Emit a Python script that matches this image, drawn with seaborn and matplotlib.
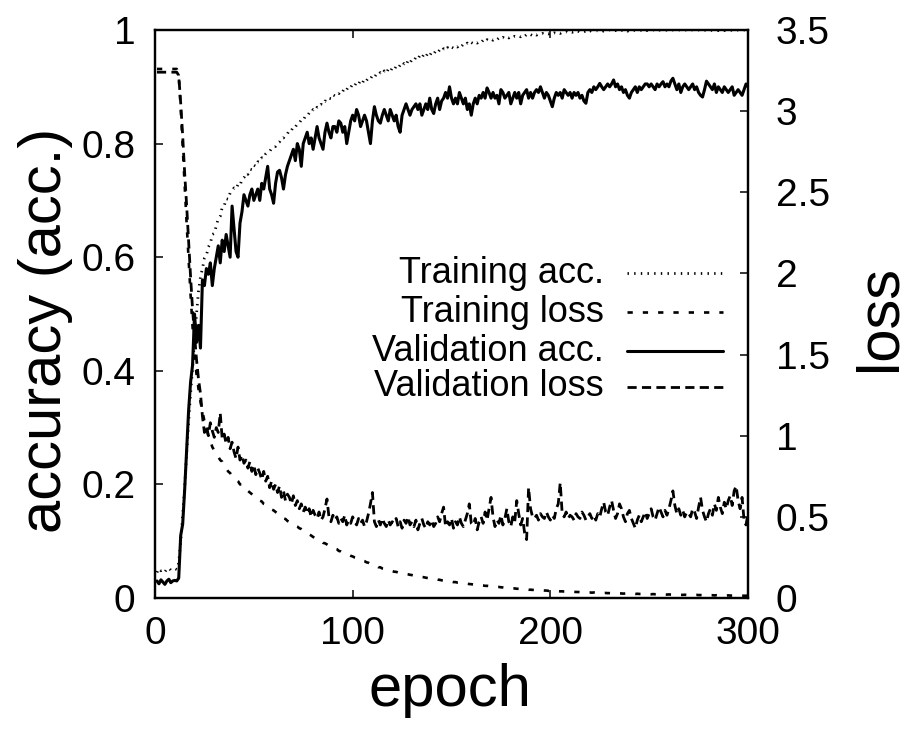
import matplotlib
matplotlib.use("Agg")
import matplotlib.pyplot as plt
import seaborn as sns
from matplotlib.lines import Line2D

sns.set_theme(style="ticks")
plt.rcParams['font.family'] = ['Liberation Sans', 'DejaVu Sans']

epochs = list(range(1, 301))

train_acc = [
    0.045, 0.052, 0.048, 0.050, 0.046, 0.051, 0.053, 0.049, 0.050, 0.052,
    0.050, 0.062, 0.100, 0.145, 0.195, 0.255, 0.310, 0.360, 0.405, 0.455,
    0.500, 0.540, 0.565, 0.580, 0.598, 0.603, 0.618, 0.624, 0.640, 0.642,
    0.655, 0.668, 0.672, 0.688, 0.690, 0.703, 0.702, 0.713, 0.716, 0.722,
    0.720, 0.728, 0.726, 0.737, 0.740, 0.748, 0.746, 0.755, 0.754, 0.762,
    0.760, 0.768, 0.767, 0.775, 0.774, 0.782, 0.785, 0.786, 0.792, 0.795,
    0.795, 0.801, 0.803, 0.810, 0.810, 0.816, 0.817, 0.824, 0.823, 0.830,
    0.829, 0.835, 0.836, 0.842, 0.841, 0.848, 0.848, 0.854, 0.853, 0.860,
    0.858, 0.864, 0.863, 0.869, 0.868, 0.875, 0.874, 0.880, 0.879, 0.886,
    0.884, 0.889, 0.888, 0.894, 0.892, 0.898, 0.895, 0.901, 0.899, 0.905,
    0.902, 0.908, 0.905, 0.911, 0.907, 0.914, 0.911, 0.916, 0.914, 0.920,
    0.917, 0.922, 0.920, 0.925, 0.922, 0.928, 0.924, 0.931, 0.927, 0.933,
    0.930, 0.936, 0.933, 0.938, 0.935, 0.941, 0.938, 0.946, 0.942, 0.948,
    0.946, 0.952, 0.949, 0.955, 0.951, 0.957, 0.953, 0.959, 0.955, 0.961,
    0.958, 0.963, 0.960, 0.965, 0.962, 0.967, 0.964, 0.969, 0.966, 0.970,
    0.968, 0.972, 0.970, 0.974, 0.971, 0.975, 0.973, 0.977, 0.974, 0.978,
    0.976, 0.979, 0.977, 0.980, 0.978, 0.982, 0.979, 0.983, 0.981, 0.984,
    0.982, 0.985, 0.983, 0.986, 0.984, 0.987, 0.985, 0.988, 0.986, 0.989,
    0.987, 0.989, 0.988, 0.990, 0.988, 0.991, 0.989, 0.992, 0.990, 0.992,
    0.990, 0.993, 0.991, 0.993, 0.992, 0.994, 0.992, 0.994, 0.993, 0.995,
    0.993, 0.995, 0.994, 0.996, 0.994, 0.996, 0.995, 0.997, 0.995, 0.997,
    0.996, 0.997, 0.996, 0.998, 0.996, 0.998, 0.997, 0.998, 0.997, 0.999,
    0.997, 0.998, 0.998, 0.999, 0.997, 0.999, 0.998, 0.999, 0.998, 1.000,
    0.998, 0.999, 0.999, 1.000, 0.998, 0.999, 0.999, 1.000, 0.998, 0.999,
    0.999, 1.000, 0.999, 1.000, 0.998, 1.000, 0.999, 1.000, 0.999, 1.000,
    0.999, 1.000, 0.999, 1.000, 1.000, 0.999, 1.000, 0.999, 1.000, 1.000,
    0.999, 1.000, 1.000, 0.999, 1.000, 1.000, 0.999, 1.000, 1.000, 0.999,
    1.000, 1.000, 0.999, 1.000, 1.000, 0.999, 1.000, 1.000, 0.999, 1.000,
    1.000, 0.999, 1.000, 1.000, 0.999, 1.000, 1.000, 0.999, 1.000, 1.000,
    0.999, 1.000, 1.000, 0.999, 1.000, 1.000, 0.999, 1.000, 1.000, 1.000,
]

train_loss = [
    3.26, 3.26, 3.26, 3.26, 3.26, 3.26, 3.26, 3.26, 3.26, 3.26,
    3.26, 3.22, 3.02, 2.78, 2.54, 2.31, 2.09, 1.87, 1.67, 1.50,
    1.38, 1.29, 1.21, 1.15, 1.09, 1.05, 1.00, 0.97, 0.93, 0.91,
    0.89, 0.87, 0.85, 0.84, 0.81, 0.80, 0.78, 0.77, 0.75, 0.74,
    0.73, 0.72, 0.70, 0.70, 0.68, 0.67, 0.66, 0.65, 0.64, 0.63,
    0.62, 0.61, 0.60, 0.595, 0.58, 0.575, 0.565, 0.558, 0.545, 0.54,
    0.53, 0.522, 0.51, 0.505, 0.49, 0.487, 0.475, 0.468, 0.458, 0.452,
    0.445, 0.44, 0.43, 0.425, 0.415, 0.41, 0.40, 0.392, 0.385, 0.376,
    0.37, 0.365, 0.356, 0.352, 0.34, 0.337, 0.33, 0.322, 0.315, 0.312,
    0.305, 0.301, 0.29, 0.287, 0.28, 0.276, 0.27, 0.266, 0.26, 0.256,
    0.25, 0.247, 0.24, 0.237, 0.23, 0.227, 0.22, 0.217, 0.21, 0.207,
    0.20, 0.199, 0.19, 0.189, 0.182, 0.180, 0.175, 0.172, 0.168, 0.166,
    0.162, 0.161, 0.157, 0.156, 0.152, 0.151, 0.148, 0.146, 0.143, 0.141,
    0.138, 0.137, 0.133, 0.132, 0.129, 0.128, 0.125, 0.123, 0.120, 0.119,
    0.116, 0.116, 0.113, 0.112, 0.109, 0.108, 0.105, 0.105, 0.102, 0.101,
    0.098, 0.098, 0.095, 0.095, 0.092, 0.091, 0.089, 0.088, 0.086, 0.085,
    0.083, 0.083, 0.080, 0.080, 0.078, 0.077, 0.075, 0.075, 0.073, 0.072,
    0.070, 0.070, 0.068, 0.068, 0.066, 0.065, 0.063, 0.063, 0.061, 0.061,
    0.059, 0.059, 0.057, 0.057, 0.055, 0.055, 0.053, 0.053, 0.051, 0.051,
    0.050, 0.050, 0.048, 0.049, 0.047, 0.047, 0.046, 0.046, 0.044, 0.045,
    0.043, 0.044, 0.042, 0.042, 0.041, 0.041, 0.040, 0.040, 0.039, 0.039,
    0.038, 0.038, 0.037, 0.037, 0.036, 0.036, 0.035, 0.035, 0.034, 0.034,
    0.033, 0.034, 0.032, 0.033, 0.031, 0.032, 0.030, 0.031, 0.030, 0.030,
    0.029, 0.030, 0.028, 0.029, 0.028, 0.028, 0.027, 0.028, 0.026, 0.027,
    0.026, 0.026, 0.025, 0.026, 0.025, 0.025, 0.024, 0.025, 0.024, 0.024,
    0.023, 0.024, 0.023, 0.023, 0.022, 0.023, 0.022, 0.022, 0.021, 0.022,
    0.021, 0.021, 0.020, 0.021, 0.020, 0.020, 0.019, 0.020, 0.019, 0.019,
    0.019, 0.019, 0.018, 0.019, 0.018, 0.018, 0.017, 0.018, 0.017, 0.017,
    0.017, 0.017, 0.016, 0.017, 0.016, 0.016, 0.016, 0.016, 0.015, 0.016,
    0.015, 0.015, 0.015, 0.015, 0.014, 0.015, 0.014, 0.014, 0.014, 0.014,
]

val_acc = [
    0.030, 0.025, 0.032, 0.028, 0.024, 0.030, 0.033, 0.027, 0.030, 0.031,
    0.030, 0.035, 0.110, 0.130, 0.190, 0.260, 0.330, 0.380, 0.410, 0.500,
    0.450, 0.480, 0.440, 0.560, 0.550, 0.580, 0.570, 0.590, 0.550, 0.580,
    0.600, 0.620, 0.590, 0.630, 0.610, 0.640, 0.620, 0.600, 0.690, 0.650,
    0.610, 0.600, 0.660, 0.680, 0.710, 0.700, 0.690, 0.710, 0.720, 0.700,
    0.710, 0.720, 0.700, 0.730, 0.720, 0.740, 0.760, 0.720, 0.710, 0.695,
    0.730, 0.750, 0.753, 0.740, 0.720, 0.745, 0.760, 0.770, 0.780, 0.790,
    0.770, 0.800, 0.790, 0.760, 0.800, 0.810, 0.820, 0.800, 0.810, 0.790,
    0.810, 0.830, 0.810, 0.800, 0.790, 0.820, 0.836, 0.820, 0.810, 0.830,
    0.830, 0.820, 0.840, 0.836, 0.820, 0.830, 0.800, 0.820, 0.840, 0.850,
    0.840, 0.860, 0.850, 0.830, 0.840, 0.850, 0.840, 0.820, 0.800, 0.840,
    0.865, 0.850, 0.840, 0.836, 0.850, 0.860, 0.850, 0.840, 0.860, 0.850,
    0.840, 0.850, 0.830, 0.820, 0.850, 0.860, 0.870, 0.860, 0.850, 0.860,
    0.865, 0.870, 0.860, 0.870, 0.850, 0.860, 0.870, 0.860, 0.880, 0.860,
    0.853, 0.870, 0.880, 0.860, 0.875, 0.880, 0.890, 0.880, 0.900, 0.880,
    0.870, 0.880, 0.870, 0.890, 0.880, 0.870, 0.880, 0.860, 0.870, 0.850,
    0.870, 0.880, 0.870, 0.885, 0.880, 0.890, 0.880, 0.898, 0.890, 0.880,
    0.890, 0.880, 0.885, 0.870, 0.895, 0.890, 0.880, 0.885, 0.890, 0.870,
    0.880, 0.890, 0.880, 0.890, 0.870, 0.885, 0.890, 0.895, 0.880, 0.890,
    0.880, 0.890, 0.895, 0.890, 0.900, 0.890, 0.880, 0.890, 0.885, 0.875,
    0.865, 0.880, 0.890, 0.885, 0.890, 0.880, 0.895, 0.890, 0.885, 0.890,
    0.880, 0.890, 0.885, 0.890, 0.880, 0.885, 0.875, 0.871, 0.890, 0.895,
    0.890, 0.900, 0.895, 0.900, 0.906, 0.900, 0.895, 0.900, 0.905, 0.900,
    0.905, 0.912, 0.900, 0.905, 0.895, 0.900, 0.890, 0.895, 0.885, 0.880,
    0.890, 0.895, 0.900, 0.890, 0.900, 0.895, 0.900, 0.905, 0.905, 0.900,
    0.905, 0.900, 0.895, 0.905, 0.900, 0.905, 0.909, 0.900, 0.905, 0.900,
    0.910, 0.915, 0.905, 0.895, 0.905, 0.890, 0.900, 0.905, 0.900, 0.895,
    0.900, 0.905, 0.895, 0.900, 0.890, 0.885, 0.882, 0.895, 0.910, 0.905,
    0.900, 0.895, 0.905, 0.890, 0.900, 0.895, 0.890, 0.900, 0.895, 0.890,
    0.895, 0.900, 0.885, 0.890, 0.895, 0.890, 0.885, 0.895, 0.905, 0.900,
]

val_loss = [
    3.24, 3.24, 3.24, 3.24, 3.24, 3.24, 3.24, 3.24, 3.24, 3.24,
    3.24, 3.22, 3.05, 2.85, 2.62, 2.42, 2.20, 1.98, 1.78, 1.62,
    1.47, 1.35, 1.26, 1.12, 1.02, 1.06, 1.00, 1.08, 1.03, 0.99,
    1.05, 1.02, 1.14, 0.98, 1.01, 0.95, 0.99, 0.92, 0.96, 0.90,
    0.86, 0.93, 0.85, 0.88, 0.83, 0.85, 0.80, 0.84, 0.78, 0.82,
    0.76, 0.80, 0.77, 0.73, 0.78, 0.72, 0.75, 0.68, 0.72, 0.67,
    0.70, 0.65, 0.69, 0.62, 0.66, 0.60, 0.64, 0.62, 0.58, 0.63,
    0.57, 0.60, 0.55, 0.58, 0.53, 0.56, 0.52, 0.55, 0.50, 0.54,
    0.51, 0.49, 0.53, 0.48, 0.50, 0.55, 0.61, 0.50, 0.47, 0.51,
    0.48, 0.50, 0.46, 0.49, 0.47, 0.51, 0.45, 0.48, 0.46, 0.50,
    0.47, 0.45, 0.49, 0.46, 0.48, 0.44, 0.47, 0.52, 0.58, 0.65,
    0.47, 0.44, 0.48, 0.45, 0.49, 0.46, 0.44, 0.48, 0.45, 0.47,
    0.46, 0.49, 0.44, 0.47, 0.43, 0.48, 0.46, 0.50, 0.45, 0.47,
    0.44, 0.48, 0.42, 0.46, 0.49, 0.45, 0.43, 0.47, 0.45, 0.48,
    0.44, 0.46, 0.50, 0.47, 0.52, 0.56, 0.44, 0.47, 0.45, 0.49,
    0.43, 0.47, 0.45, 0.50, 0.46, 0.44, 0.48, 0.52, 0.58, 0.46,
    0.45, 0.49, 0.42, 0.47, 0.50, 0.46, 0.53, 0.48, 0.55, 0.62,
    0.50, 0.44, 0.48, 0.46, 0.51, 0.45, 0.49, 0.55, 0.47, 0.44,
    0.50, 0.47, 0.60, 0.52, 0.45, 0.49, 0.40, 0.36, 0.68, 0.55,
    0.50, 0.49, 0.51, 0.48, 0.52, 0.50, 0.49, 0.53, 0.50, 0.48,
    0.51, 0.49, 0.55, 0.58, 0.71, 0.52, 0.50, 0.53, 0.49, 0.51,
    0.50, 0.48, 0.52, 0.50, 0.49, 0.53, 0.51, 0.48, 0.50, 0.52,
    0.49, 0.51, 0.48, 0.52, 0.50, 0.55, 0.59, 0.53, 0.51, 0.56,
    0.60, 0.54, 0.49, 0.52, 0.58, 0.55, 0.50, 0.47, 0.52, 0.54,
    0.49, 0.46, 0.43, 0.48, 0.51, 0.47, 0.50, 0.53, 0.49, 0.52,
    0.55, 0.50, 0.48, 0.52, 0.56, 0.53, 0.50, 0.54, 0.51, 0.55,
    0.60, 0.66, 0.57, 0.52, 0.55, 0.51, 0.54, 0.50, 0.53, 0.52,
    0.50, 0.55, 0.53, 0.49, 0.56, 0.62, 0.54, 0.50, 0.47, 0.52,
    0.55, 0.51, 0.58, 0.54, 0.62, 0.56, 0.52, 0.59, 0.55, 0.60,
    0.63, 0.57, 0.66, 0.69, 0.60, 0.55, 0.62, 0.48, 0.45, 0.52,
]

x_ticks = [0, 100, 200, 300]
acc_ticks = [0, 0.2, 0.4, 0.6, 0.8, 1.0]
acc_tick_labels = ["0", "0.2", "0.4", "0.6", "0.8", "1"]
loss_ticks = [0, 0.5, 1.0, 1.5, 2.0, 2.5, 3.0, 3.5]
loss_tick_labels = ["0", "0.5", "1", "1.5", "2", "2.5", "3", "3.5"]
legend_labels = ["Training acc.", "Training loss", "Validation acc.", "Validation loss"]

W, H = 906, 734
fig = plt.figure(figsize=(W / 100, H / 100), dpi=100)
ax = fig.add_axes([155 / W, (H - 598) / H, 593 / W, 568 / H])
ax2 = ax.twinx()

styles = {
    "ta": dict(linestyle=(0, (0.5, 1.9)), lw=2.0, dash_capstyle="butt"),
    "tl": dict(linestyle=(0, (2.0, 3.8)), lw=1.9, dash_capstyle="butt"),
    "va": dict(linestyle="-", lw=2.2),
    "vl": dict(linestyle=(0, (3.3, 1.9)), lw=2.0, dash_capstyle="butt"),
}

sns.lineplot(x=epochs, y=train_acc, ax=ax, color="black", legend=False, **styles["ta"])
sns.lineplot(x=epochs, y=val_acc, ax=ax, color="black", legend=False, **styles["va"])
sns.lineplot(x=epochs, y=train_loss, ax=ax2, color="black", legend=False, **styles["tl"])
sns.lineplot(x=epochs, y=val_loss, ax=ax2, color="black", legend=False, **styles["vl"])

ax.set_xlim(0, 300)
ax.set_ylim(0, 1)
ax2.set_ylim(0, 3.5)

fs_tick = 28
ax.set_xticks(x_ticks)
ax.set_xticklabels([str(t) for t in x_ticks])
ax.set_yticks(acc_ticks)
ax.set_yticklabels(acc_tick_labels)
ax2.set_yticks(loss_ticks)
ax2.set_yticklabels(loss_tick_labels)

ax.tick_params(axis="x", direction="in", length=6, width=1.1, top=True, bottom=True,
               labelsize=fs_tick, pad=13, colors="black")
ax.tick_params(axis="y", direction="in", length=6, width=1.1, left=True, right=False,
               labelsize=fs_tick, pad=14, colors="black")
ax2.tick_params(axis="y", direction="in", length=6, width=1.1, right=True, left=False,
                labelsize=fs_tick, pad=20, colors="black")

for a in (ax, ax2):
    for s in a.spines.values():
        s.set_linewidth(1.6)
        s.set_color("black")

fs_lab = 43
ax.set_xlabel("epoch", fontsize=fs_lab, color="black")
ax.set_ylabel("accuracy (acc.)", fontsize=fs_lab, color="black")
ax2.set_ylabel("loss", fontsize=fs_lab, color="black")
ax.xaxis.label.set_va("center")
ax.yaxis.label.set_va("center")
ax2.yaxis.label.set_va("center")
ax.xaxis.set_label_coords(0.497, -0.162)
ax.yaxis.set_label_coords(-0.185, 0.472)
ax2.yaxis.set_label_coords(1.223, 0.493)

# legend drawn gnuplot-style: right-aligned text, sample line on its right
leg_y = [0.572, 0.503, 0.434, 0.372]
leg_styles = [styles["ta"], styles["tl"], styles["va"], styles["vl"]]
for lab, yy, st in zip(legend_labels, leg_y, leg_styles):
    ax2.text(0.757, yy, lab, transform=ax2.transAxes, ha="right", va="center",
             fontsize=26, color="black")
    ax2.add_line(Line2D([0.796, 0.957], [yy, yy], transform=ax2.transAxes,
                        color="black", **st))

fig.savefig("out.png", dpi=100, facecolor="white")
